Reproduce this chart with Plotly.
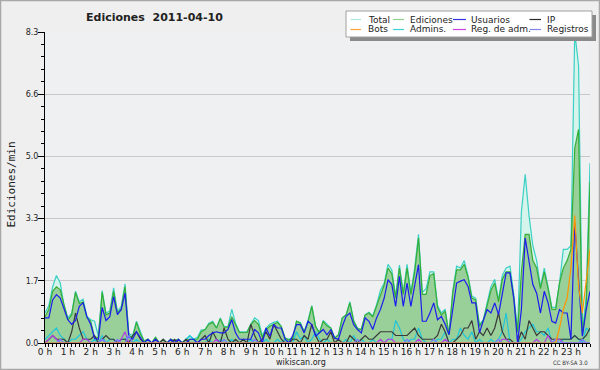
import plotly.graph_objects as go

# ---- data (edits per minute, 10-minute bins) ----
minutes = list(range(0, 1440, 10))
hours = [m / 60 for m in minutes]

hour_labels = ["%d h" % h for h in range(24)]
y_tick_vals = [0, 1.66, 3.32, 4.98, 6.64, 8.3]
y_tick_text = ["0.0", "1.7", "3.3", "5.0", "6.6", "8.3"]

total = [
    0.8, 1.0, 1.5, 1.8, 1.6, 1.0,
    0.67, 0.8, 1.38, 1.1, 1.17, 0.71,
    0.62, 0.58, 0.18, 1.4, 0.8, 0.85,
    1.47, 0.84, 0.98, 1.58, 0.25, 0.2,
    0.58, 0.3, 0.05, 0.1, 0.0, 0.15,
    0.0, 0.1, 0.0, 0.1, 0.05, 0.1,
    0.0, 0.1, 0.18, 0.1, 0.15, 0.35,
    0.36, 0.53, 0.58, 0.4, 0.67, 0.44,
    0.44, 0.9, 0.53, 0.3, 0.3, 0.3,
    0.5, 0.67, 0.6, 0.2, 0.4, 0.5,
    0.55, 0.58, 0.44, 0.13, 0.1, 0.15,
    0.58, 0.55, 0.3, 0.6, 1.0, 0.45,
    0.27, 0.6, 0.5, 0.4, 0.13, 0.22,
    0.67, 0.75, 1.1, 0.6, 0.4, 0.36,
    0.75, 0.82, 0.72, 1.02, 1.4, 1.6,
    2.1, 1.95, 1.25, 2.08, 1.35, 2.1,
    1.35, 2.0, 2.9, 1.35, 1.45, 1.9,
    1.9, 1.0, 0.8, 0.9, 0.25, 1.4,
    2.05, 2.0, 2.2, 1.8, 1.25, 1.2,
    0.5, 0.62, 1.07, 1.5, 1.7, 1.15,
    1.8, 2.0, 2.05, 1.3, 0.3, 3.5,
    4.5, 3.4, 2.6, 2.2, 1.5, 2.0,
    1.5, 0.95, 0.95, 1.6, 2.5, 2.5,
    2.6, 8.3, 7.4, 0.3, 1.25, 4.8,
]

ediciones = [
    0.7, 0.9, 1.38, 1.5, 1.42, 0.98,
    0.62, 0.75, 1.35, 1.05, 1.1, 0.68,
    0.58, 0.15, 0.15, 1.35, 0.75, 0.8,
    1.38, 0.8, 0.92, 1.5, 0.2, 0.15,
    0.55, 0.25, 0.05, 0.1, 0.0, 0.15,
    0.0, 0.1, 0.0, 0.1, 0.05, 0.1,
    0.0, 0.1, 0.1, 0.1, 0.1, 0.3,
    0.36, 0.5, 0.55, 0.4, 0.65, 0.42,
    0.42, 0.7, 0.5, 0.28, 0.28, 0.28,
    0.5, 0.6, 0.5, 0.15, 0.35, 0.45,
    0.5, 0.55, 0.44, 0.13, 0.08, 0.12,
    0.58, 0.52, 0.3, 0.55, 0.98, 0.44,
    0.27, 0.58, 0.45, 0.4, 0.13, 0.22,
    0.67, 0.75, 1.07, 0.58, 0.38, 0.36,
    0.75, 0.8, 0.7, 1.0, 1.3, 1.55,
    2.0, 1.85, 1.2, 2.0, 1.3, 2.0,
    1.3, 1.9, 2.8, 1.3, 1.3, 1.8,
    1.85, 0.95, 0.75, 0.85, 0.22, 1.35,
    1.95, 1.95, 2.1, 1.75, 1.2, 1.15,
    0.45, 0.6, 1.0, 1.4, 1.6, 1.1,
    1.7, 1.9, 1.9, 1.2, 0.3, 1.9,
    2.9, 2.9, 2.2, 2.0, 1.45, 1.9,
    1.45, 0.9, 0.9, 1.6, 2.0, 2.2,
    2.5, 5.2, 5.7, 0.2, 1.0, 4.3,
]

usuarios = [
    0.67, 0.67, 1.15, 1.29, 1.2, 0.89,
    0.62, 0.5, 0.6, 0.98, 1.07, 0.7,
    0.5, 0.12, 0.1, 0.95, 0.6, 0.7,
    1.24, 0.76, 0.89, 1.33, 0.15, 0.1,
    0.3, 0.15, 0.0, 0.1, 0.0, 0.1,
    0.0, 0.0, 0.0, 0.1, 0.0, 0.1,
    0.0, 0.0, 0.1, 0.1, 0.0, 0.1,
    0.1, 0.2, 0.27, 0.3, 0.27, 0.27,
    0.36, 0.62, 0.27, 0.1, 0.1, 0.1,
    0.1, 0.36, 0.27, 0.0, 0.4, 0.18,
    0.49, 0.4, 0.4, 0.1, 0.0, 0.2,
    0.49, 0.49, 0.27, 0.58, 0.49, 0.18,
    0.27, 0.36, 0.22, 0.36, 0.13, 0.1,
    0.44, 0.71, 0.8, 0.49, 0.36, 0.27,
    0.67, 0.58, 0.36, 0.67, 0.89, 1.2,
    1.69, 1.56, 0.98, 1.78, 0.98, 1.6,
    0.98, 1.5, 2.09, 0.58, 0.58, 0.8,
    1.07, 0.62, 0.71, 0.5, 0.22, 0.9,
    1.6, 1.65, 1.69, 1.51, 1.07, 1.07,
    0.27, 0.6, 0.89, 0.8, 1.07, 0.76,
    1.3, 1.87, 1.87, 1.2, 0.0, 0.9,
    2.8, 2.2, 1.56, 1.33, 0.8, 1.38,
    1.07, 0.58, 0.53, 0.89, 0.8, 0.8,
    0.1, 3.2, 1.78, 0.18, 0.89, 1.38,
]

ip = [
    0.0, 0.1, 0.2, 0.1, 0.1, 0.1,
    0.0, 0.3, 0.8, 0.4, 0.1, 0.1,
    0.1, 0.2, 0.0, 0.1, 0.2, 0.1,
    0.1, 0.0, 0.1, 0.1, 0.0, 0.2,
    0.3, 0.1, 0.0, 0.0, 0.0, 0.1,
    0.0, 0.1, 0.0, 0.0, 0.1, 0.0,
    0.0, 0.1, 0.0, 0.0, 0.0, 0.1,
    0.2, 0.0, 0.3, 0.1, 0.0, 0.4,
    0.1, 0.0, 0.1, 0.0, 0.1, 0.0,
    0.5, 0.2, 0.0, 0.1, 0.3, 0.1,
    0.5, 0.3, 0.1, 0.0, 0.0, 0.1,
    0.1, 0.0, 0.2, 0.1, 0.5, 0.2,
    0.0, 0.1, 0.1, 0.3, 0.0, 0.1,
    0.0, 0.0, 0.2, 0.1, 0.0, 0.1,
    0.2, 0.1, 0.1, 0.2, 0.3, 0.3,
    0.3, 0.3, 0.2, 0.2, 0.2, 0.2,
    0.3, 0.4, 0.2, 0.1, 0.1, 0.1,
    0.1, 0.2, 0.5, 0.3, 0.0, 0.0,
    0.1, 0.2, 0.4, 0.4, 0.6, 0.1,
    0.3, 0.2, 0.4, 0.2, 0.4, 0.8,
    0.3, 0.1, 0.1, 0.0, 0.0, 0.3,
    0.1, 0.6, 0.4, 0.2, 0.3, 0.3,
    0.2, 0.1, 0.1, 0.1, 0.1, 0.1,
    0.1, 0.2, 0.1, 0.1, 0.2, 0.4,
]

admins = [
    0.1, 0.2, 0.3, 0.4, 0.2, 0.1,
    0.0, 0.1, 0.1, 0.2, 0.3, 0.1,
    0.0, 0.1, 0.0, 0.2, 0.0, 0.1,
    0.1, 0.0, 0.1, 0.1, 0.2, 0.0,
    0.1, 0.0, 0.0, 0.0, 0.0, 0.0,
    0.0, 0.0, 0.0, 0.0, 0.0, 0.0,
    0.0, 0.1, 0.2, 0.1, 0.0, 0.0,
    0.0, 0.1, 0.0, 0.0, 0.1, 0.0,
    0.0, 0.1, 0.0, 0.0, 0.0, 0.0,
    0.1, 0.0, 0.0, 0.0, 0.1, 0.0,
    0.0, 0.1, 0.0, 0.1, 0.0, 0.0,
    0.3, 0.1, 0.2, 0.0, 0.1, 0.3,
    0.1, 0.0, 0.1, 0.0, 0.0, 0.0,
    0.0, 0.1, 0.0, 0.2, 0.0, 0.1,
    0.0, 0.0, 0.1, 0.0, 0.0, 0.0,
    0.1, 0.1, 0.6, 0.4, 0.1, 0.0,
    0.1, 0.1, 0.4, 0.1, 0.0, 0.0,
    0.0, 0.1, 0.1, 0.3, 0.0, 0.1,
    0.1, 0.4, 0.2, 0.1, 0.3, 0.0,
    0.1, 0.0, 0.0, 0.1, 0.0, 0.1,
    0.3, 0.8, 0.0, 0.0, 0.0, 0.1,
    0.3, 0.4, 0.5, 0.3, 0.3, 0.2,
    0.4, 0.0, 0.0, 0.0, 0.1, 0.1,
    0.1, 0.2, 0.1, 0.0, 0.4, 0.3,
]

reg_adm = [
    0.0, 0.1, 0.2, 0.1, 0.0, 0.0,
    0.0, 0.0, 0.0, 0.0, 0.1, 0.1,
    0.0, 0.0, 0.0, 0.1, 0.0, 0.0,
    0.0, 0.0, 0.1, 0.3, 0.0, 0.0,
    0.0, 0.0, 0.0, 0.0, 0.0, 0.0,
    0.0, 0.0, 0.0, 0.0, 0.0, 0.0,
    0.0, 0.0, 0.0, 0.0, 0.0, 0.0,
    0.0, 0.0, 0.0, 0.1, 0.0, 0.0,
    0.0, 0.0, 0.0, 0.0, 0.0, 0.0,
    0.0, 0.0, 0.0, 0.0, 0.0, 0.0,
    0.0, 0.0, 0.0, 0.0, 0.0, 0.0,
    0.0, 0.0, 0.0, 0.0, 0.0, 0.0,
    0.0, 0.0, 0.0, 0.0, 0.0, 0.0,
    0.0, 0.0, 0.0, 0.0, 0.0, 0.0,
    0.0, 0.0, 0.0, 0.0, 0.1, 0.0,
    0.1, 0.1, 0.0, 0.0, 0.0, 0.0,
    0.0, 0.0, 0.1, 0.0, 0.0, 0.0,
    0.0, 0.0, 0.0, 0.1, 0.0, 0.0,
    0.0, 0.0, 0.0, 0.0, 0.0, 0.0,
    0.0, 0.0, 0.0, 0.0, 0.0, 0.0,
    0.1, 0.1, 0.0, 0.0, 0.0, 0.0,
    0.0, 0.0, 0.0, 0.1, 0.0, 0.0,
    0.2, 0.0, 0.1, 0.1, 0.0, 0.0,
    0.0, 0.0, 0.0, 0.0, 0.0, 0.0,
]

registros = [
    0.0, 0.0, 0.0, 0.0, 0.1, 0.0,
    0.0, 0.0, 0.0, 0.0, 0.0, 0.0,
    0.0, 0.0, 0.0, 0.1, 0.0, 0.0,
    0.0, 0.1, 0.0, 0.0, 0.2, 0.0,
    0.0, 0.0, 0.0, 0.0, 0.0, 0.0,
    0.0, 0.0, 0.0, 0.0, 0.0, 0.0,
    0.0, 0.0, 0.0, 0.0, 0.0, 0.0,
    0.0, 0.0, 0.0, 0.0, 0.0, 0.1,
    0.0, 0.0, 0.0, 0.0, 0.0, 0.0,
    0.0, 0.1, 0.0, 0.0, 0.0, 0.0,
    0.0, 0.0, 0.0, 0.0, 0.0, 0.0,
    0.0, 0.0, 0.0, 0.0, 0.0, 0.0,
    0.0, 0.0, 0.0, 0.0, 0.0, 0.0,
    0.0, 0.0, 0.0, 0.0, 0.1, 0.0,
    0.0, 0.0, 0.0, 0.0, 0.0, 0.0,
    0.0, 0.0, 0.0, 0.0, 0.0, 0.1,
    0.0, 0.0, 0.0, 0.0, 0.0, 0.0,
    0.1, 0.0, 0.0, 0.0, 0.0, 0.0,
    0.0, 0.0, 0.0, 0.0, 0.0, 0.0,
    0.0, 0.0, 0.0, 0.0, 0.0, 0.1,
    0.0, 0.0, 0.0, 0.0, 0.0, 0.0,
    0.0, 0.0, 0.0, 0.0, 0.0, 0.0,
    0.0, 0.0, 0.1, 0.0, 0.0, 0.0,
    0.0, 0.0, 0.0, 0.1, 0.0, 0.0,
]

bots = [
    0.0, 0.0, 0.0, 0.0, 0.0, 0.0, 0.0, 0.0, 0.0, 0.0, 0.0, 0.0,
    0.0, 0.0, 0.0, 0.0, 0.0, 0.0, 0.0, 0.0, 0.0, 0.0, 0.0, 0.0,
    0.0, 0.0, 0.0, 0.0, 0.0, 0.0, 0.0, 0.0, 0.0, 0.0, 0.0, 0.0,
    0.0, 0.0, 0.0, 0.0, 0.0, 0.0, 0.0, 0.0, 0.0, 0.0, 0.0, 0.0,
    0.0, 0.0, 0.0, 0.0, 0.0, 0.0, 0.0, 0.0, 0.0, 0.0, 0.0, 0.0,
    0.0, 0.0, 0.0, 0.0, 0.0, 0.0, 0.0, 0.0, 0.0, 0.0, 0.0, 0.0,
    0.0, 0.0, 0.0, 0.0, 0.0, 0.0, 0.0, 0.0, 0.0, 0.0, 0.0, 0.0,
    0.0, 0.0, 0.0, 0.0, 0.0, 0.0, 0.0, 0.0, 0.0, 0.0, 0.0, 0.0,
    0.0, 0.0, 0.0, 0.0, 0.0, 0.0, 0.0, 0.0, 0.0, 0.0, 0.0, 0.0,
    0.0, 0.0, 0.0, 0.0, 0.0, 0.0, 0.0, 0.0, 0.0, 0.0, 0.0, 0.0,
    0.0, 0.0, 0.0, 0.0, 0.0, 0.0, 0.0, 0.0, 0.0, 0.0, 0.0, 0.0,
    0.0, 0.0, 0.0, 0.4, 0.9, 1.2, 2.0, 3.4, 1.5, 0.8, 1.6, 2.5,
]

# ---- figure ----
W, H = 600, 370
ML, MR, MT, MB = 45, 10, 32, 27
PW, PH = W - ML - MR, H - MT - MB


def px(x):
    return (x - ML) / PW


def py(y):
    return (H - MB - y) / PH


FONT = "DejaVu Sans"
TXT = "#222222"

fig = go.Figure()

# filled areas
fig.add_trace(go.Scatter(x=hours, y=total, mode="lines", fill="tozeroy",
                         fillcolor="#d4f4ec", line=dict(width=0, color="#d4f4ec"),
                         showlegend=False, hoverinfo="skip"))
fig.add_trace(go.Scatter(x=hours, y=ediciones, mode="lines", fill="tozeroy",
                         fillcolor="#99cf99", line=dict(width=0, color="#99cf99"),
                         showlegend=False, hoverinfo="skip"))

series = [
    ("Total", total, "#3cd0c4"),
    ("Ediciones", ediciones, "#36ae36"),
    ("Admins.", admins, "#1ec6dc"),
    ("IP", ip, "#3a3a3a"),
    ("Usuarios", usuarios, "#1c1cee"),
    ("Reg. de adm.", reg_adm, "#b43ce6"),
    ("Registros", registros, "#7c7cff"),
    ("Bots", bots, "#ff9600"),
]
for name, vals, col in series:
    fig.add_trace(go.Scatter(x=hours, y=vals, mode="lines", name=name,
                             line=dict(color=col, width=1.2), showlegend=False))

minor_y = [round(k * 0.332, 3) for k in range(26) if k % 5 != 0]
minor_x = [h for h in hours if abs(h - round(h)) > 1e-6]

fig.update_layout(
    width=W, height=H,
    margin=dict(l=ML, r=MR, t=MT, b=MB, pad=0),
    paper_bgcolor="#efefef",
    plot_bgcolor="#eff0f2",
    showlegend=False,
    font=dict(family=FONT, size=9, color=TXT),
    xaxis=dict(
        range=[0, hours[-1]],
        tickmode="array", tickvals=list(range(24)), ticktext=hour_labels,
        ticks="outside", ticklen=3, tickcolor="black", tickwidth=1,
        ticklabelstandoff=-3,
        showline=True, linecolor="black", linewidth=1,
        showgrid=False, zeroline=False,
        tickfont=dict(family=FONT, size=9, color=TXT),
        minor=dict(tickmode="array", tickvals=minor_x, ticks="outside",
                   ticklen=3, tickcolor="black", showgrid=False),
        fixedrange=True,
    ),
    yaxis=dict(
        range=[0, 8.3],
        tickmode="array", tickvals=y_tick_vals, ticktext=y_tick_text,
        ticks="outside", ticklen=6, tickcolor="black", tickwidth=1,
        ticklabelstandoff=-2,
        showline=True, linecolor="black", linewidth=1,
        showgrid=True, gridcolor="#c8c8c8", gridwidth=1, zeroline=False,
        tickfont=dict(family=FONT, size=8, color=TXT),
        minor=dict(tickmode="array", tickvals=minor_y, ticks="outside",
                   ticklen=3, tickcolor="black", showgrid=False),
        fixedrange=True,
    ),
)

shapes = []
annotations = []

# outer border
shapes.append(dict(type="rect", xref="paper", yref="paper",
                   x0=px(0.5), x1=px(599.5), y0=py(369.5), y1=py(0.5),
                   line=dict(color="#a8a8a8", width=1.5), layer="above"))

# title
annotations.append(dict(xref="paper", yref="paper", x=px(154), y=py(17),
                        text="<b>Ediciones\u00a0 2011-04-10</b>", showarrow=False,
                        xanchor="center", yanchor="middle",
                        font=dict(family=FONT, size=11, color=TXT)))

# y axis title
annotations.append(dict(xref="paper", yref="paper", x=px(11), y=py(184.5),
                        text="Ediciones/min", textangle=-90, showarrow=False,
                        xanchor="center", yanchor="middle",
                        font=dict(family="DejaVu Sans Mono", size=11, color=TXT)))

# footer
annotations.append(dict(xref="paper", yref="paper", x=px(300.5), y=py(362),
                        text="wikiscan.org", showarrow=False,
                        xanchor="center", yanchor="middle",
                        font=dict(family=FONT, size=8, color=TXT)))
annotations.append(dict(xref="paper", yref="paper", x=px(590), y=py(362.5),
                        text="CC BY-SA 3.0", showarrow=False,
                        xanchor="right", yanchor="middle",
                        font=dict(family="DejaVu Sans Condensed, DejaVu Sans", size=6, color="#333333")))

# legend box with shadow
shapes.append(dict(type="rect", xref="paper", yref="paper",
                   x0=px(350), x1=px(596), y0=py(41), y1=py(15),
                   fillcolor="#8a8a8a", line=dict(width=0), layer="above"))
shapes.append(dict(type="rect", xref="paper", yref="paper",
                   x0=px(346), x1=px(592), y0=py(37), y1=py(11),
                   fillcolor="white", line=dict(color="#a0a0a0", width=1), layer="above"))

legend_entries = [
    ("Total", "#ade9e2", 0, 0), ("Ediciones", "#92d292", 1, 0),
    ("Usuarios", "#3434e2", 2, 0), ("IP", "#2a2a2a", 3, 0),
    ("Bots", "#ffa238", 0, 1), ("Admins.", "#3ccfd6", 1, 1),
    ("Reg. de adm.", "#cc44e0", 2, 1), ("Registros", "#8484f4", 3, 1),
]
col_line_x = [(350.5, 361), (393, 404), (453, 466), (529.5, 541)]
col_text_x = [366, 408, 469, 545]
row_y = [19.5, 29.5]
for name, col, c, r in legend_entries:
    x0, x1 = col_line_x[c]
    shapes.append(dict(type="line", xref="paper", yref="paper",
                       x0=px(x0), x1=px(x1), y0=py(row_y[r]), y1=py(row_y[r]),
                       line=dict(color=col, width=1.2), layer="above"))
    annotations.append(dict(xref="paper", yref="paper", x=px(col_text_x[c]), y=py(row_y[r]),
                            text=name, showarrow=False, xanchor="left", yanchor="middle",
                            font=dict(family=FONT, size=9, color=TXT)))

fig.update_layout(shapes=shapes, annotations=annotations)

fig.write_html("out.html", config={"displayModeBar": False},
               post_script="document.body.style.margin='0';document.body.style.overflow='hidden';")
